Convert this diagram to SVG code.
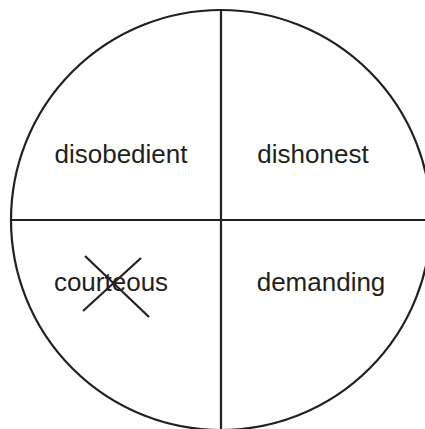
<svg xmlns="http://www.w3.org/2000/svg" width="425" height="429" viewBox="0 0 425 429">
<style>
.ln{stroke:#231f20;stroke-width:2.2;fill:none}
.lbl{font-family:"Liberation Sans",Arial,sans-serif;font-size:26px;fill:#231f20;text-anchor:middle}
</style>
<rect width="425" height="429" fill="#fff"/>
<g id="connectors">
<circle class="ln" cx="221" cy="220" r="210"/>
<line class="ln" x1="221" y1="10" x2="221" y2="429"/>
<line class="ln" x1="11" y1="220" x2="425" y2="220"/>
</g>
<g id="disobedient"><text class="lbl" x="121" y="163">disobedient</text></g>
<g id="dishonest"><text class="lbl" x="313" y="163">dishonest</text></g>
<g id="courteous"><text class="lbl" x="111" y="291">courteous</text>
<line class="ln" x1="85" y1="256" x2="149" y2="317"/>
<line class="ln" x1="83" y1="311" x2="141" y2="258"/>
</g>
<g id="demanding"><text class="lbl" x="321" y="291">demanding</text></g>
</svg>
